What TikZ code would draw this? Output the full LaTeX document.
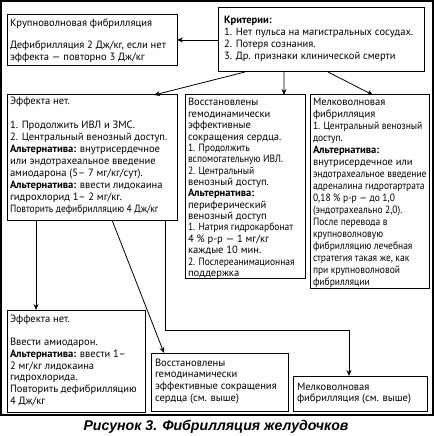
\documentclass[tikz,border=0pt]{standalone}
\usepackage{fontspec}
\usepackage{graphicx}
\setmainfont{PT Sans}
\newcommand{\cn}[1]{\scalebox{0.9}[1]{#1}}
\newfontfamily\capfont{Liberation Sans}
\usetikzlibrary{arrows.meta,calc}
% #1 width, #2 height, #3 baselineskip, #4 first-baseline offset, #5 left inset, #6 text
\newcommand{\bx}[6]{\parbox[t][#2bp][t]{#1bp}{\fontsize{10.6}{#3}\selectfont\raggedright\leftskip=#5bp\relax\rule{0pt}{#4bp}#6}}
\tikzset{
  box/.style={draw, line width=1bp, inner sep=0pt, outer sep=0pt, anchor=north west},
  arr/.style={line width=0.8bp, -{Stealth[length=6bp,width=5bp]}}
}
\begin{document}
\begin{tikzpicture}[x=1bp,y=-1bp]
\useasboundingbox (0,0) rectangle (434,436);
\draw[line width=1.2bp] (1,1) rectangle (433,415);

\node[box] (A) at (7,15) {\bx{170}{51}{12}{12}{3}{Крупноволновая фибрилляция\\[10bp]
Дефибрилляция 2 Дж/кг, если нет\\
эффекта — повторно 3 Дж/кг}};

\node[box] (C) at (218,8) {\bx{206}{64}{12}{16}{6}{\textbf{Критерии:}\\
1. Нет пульса на магистральных сосудах.\\
2. Потеря сознания.\\
3. Др. признаки клинической смерти}};

\node[box] (L) at (7,95) {\bx{170}{125}{12}{10}{3}{Эффекта нет.\\[12bp]
1. Продолжить ИВЛ и ЗМС.\\
2. Центральный венозный доступ.\\
\textbf{Альтернатива:} внутрисердечное\\
или эндотрахеальное введение\\
амиодарона (5– 7 мг/кг/сут).\\
\textbf{Альтернатива:} ввести лидокаина\\
гидрохлорид 1– 2 мг/кг.\\
\cn{Повторить дефибрилляцию 4 Дж/кг}}};

\node[box] (M) at (185,95) {\bx{120}{183}{11.4}{11}{3}{Восстановлены\\
гемодинамически\\
эффективные\\
сокращения сердца.\\
\cn{1. Продолжить}\\
\cn{вспомогательную ИВЛ.}\\
\cn{2. Центральный}\\
венозный доступ.\\
\textbf{Альтернатива:}\\
периферический\\
венозный доступ\\
\cn{1. Натрия гидрокарбонат}\\
4 \% р-р — 1 мг/кг\\
каждые 10 мин.\\
\cn{2. Послереанимационная}\\
поддержка}};

\node[box] (R) at (310,95) {\bx{119}{193}{12}{11}{3}{Мелковолновая\\
фибрилляция\\
\cn{1. Центральный венозный}\\
\cn{доступ.}\\
\textbf{Альтернатива:}\\
внутрисердечное или\\
\cn{эндотрахеальное введение}\\
\cn{адреналина гидротартрата}\\
\cn{0,18 \% р-р — до 1,0}\\
\cn{(эндотрахеально 2,0).}\\
\cn{После перевода в}\\
\cn{крупноволновую}\\
\cn{фибрилляцию лечебная}\\
\cn{стратегия такая же, как}\\
\cn{при крупноволновой}\\
\cn{фибрилляции}}};

\node[box] (L2) at (7,310) {\bx{138}{102}{11.8}{12}{3}{Эффекта нет.\\[11.8bp]
Ввести амиодарон.\\
\textbf{Альтернатива:} ввести 1–\\
2 мг/кг лидокаина\\
гидрохлорида.\\
Повторить дефибрилляцию\\
4 Дж/кг}};

\node[box] (M2) at (151,353) {\bx{137}{58}{11.8}{13}{4}{Восстановлены\\
гемодинамически\\
эффективные сокращения\\
сердца (см. выше)}};

\node[box] (R2) at (293,376) {\bx{134}{35}{12}{14}{4}{Мелковолновая\\
фибрилляция (см. выше)}};

\node[font=\capfont\fontsize{14.2}{16}\selectfont\bfseries\itshape] (cap) at (216,427) {Рисунок 3. Фибрилляция желудочков};

% connectors
\draw[arr] (C.west) -- (C.west -| A.east);
\draw[arr] ([xshift=27bp]C.south west) -- ([xshift=147bp]L.north west);
\draw[arr] ([xshift=66bp]C.south west) -- ([xshift=99bp]M.north west);
\draw[arr] ([xshift=110bp]C.south west) -- ([xshift=63bp]R.north west);
\draw[arr] ([xshift=29bp]L.south west) -- ([xshift=29bp]L2.north west);
\draw[arr] ([xshift=105bp]L.south west) -- ([xshift=13bp]M2.north west);
\draw[arr] ([xshift=158bp]L.south west) -- ++(0,110) -| ([xshift=56bp]R2.north west);
\end{tikzpicture}
\end{document}
